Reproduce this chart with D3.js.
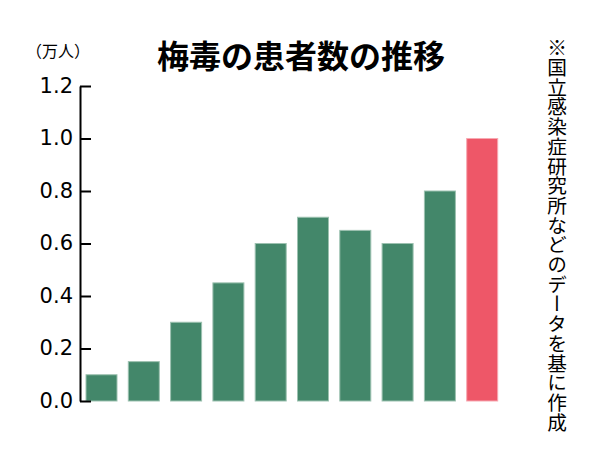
<!DOCTYPE html>
<html><head><meta charset="utf-8">
<script src="https://cdn.jsdelivr.net/npm/d3@7"></script>
<style>body{margin:0;background:#fff}svg{display:block}</style>
</head><body>
<svg id="c" width="600" height="465"></svg>
<script>
const categories = ["1","2","3","4","5","6","7","8","9","10"];
const values = [0.1, 0.15, 0.3, 0.45, 0.6, 0.7, 0.65, 0.6, 0.8, 1.0];
const highlight = [false,false,false,false,false,false,false,false,false,true];
const yTicks = [0, 0.2, 0.4, 0.6, 0.8, 1.0, 1.2];
const title = "梅毒の患者数の推移";
const unit = "（万人）";
const note = "※国立感染症研究所などのデータを基に作成";

const svg = d3.select("#c");
const font = "'Noto Sans CJK JP', 'Noto Sans', sans-serif";
const numFont = "'DejaVu Sans', sans-serif";
const x = d3.scaleBand().domain(categories).range([86, 497.7]).paddingInner(0.267).paddingOuter(0);
const y = d3.scaleLinear().domain([0, 1.2]).range([401, 86]);

svg.selectAll("rect.bar").data(values).join("rect")
  .attr("class","bar")
  .attr("x",(d,i)=>x(categories[i]))
  .attr("width",x.bandwidth())
  .attr("y",d=>y(d))
  .attr("height",d=>y(0)-y(d))
  .attr("fill",(d,i)=>highlight[i]?"#ee5768":"#43876a")
  .attr("stroke",(d,i)=>highlight[i]?"#f7a9b2":"#9cc1b0")
  .attr("stroke-width",1);

const axis = d3.axisRight(y).tickValues(yTicks).tickFormat(d3.format(".1f")).tickSize(11).tickSizeOuter(0);
const g = svg.append("g").attr("transform","translate(80,0)").call(axis);
g.select(".domain").attr("stroke","#000").attr("stroke-width",2);
g.selectAll(".tick line").attr("stroke","#000").attr("stroke-width",2);
g.selectAll(".tick text").attr("x",-7).attr("text-anchor","end")
  .style("font-family",numFont).style("font-size","21px").attr("fill","#000").attr("dy","0.3em");

svg.append("text").attr("x",301).attr("y",68).attr("text-anchor","middle")
  .style("font-family",font).style("font-size","32px").style("font-weight","bold").text(title);
svg.append("text").attr("x",58).attr("y",57).attr("text-anchor","middle")
  .style("font-family",font).style("font-size","16px").text(unit);
svg.append("text").attr("x",557).attr("y",38)
  .style("font-family",font).style("font-size","19.7px")
  .style("writing-mode","vertical-rl").style("glyph-orientation-vertical","0")
  .text(note);
</script>
</body></html>
